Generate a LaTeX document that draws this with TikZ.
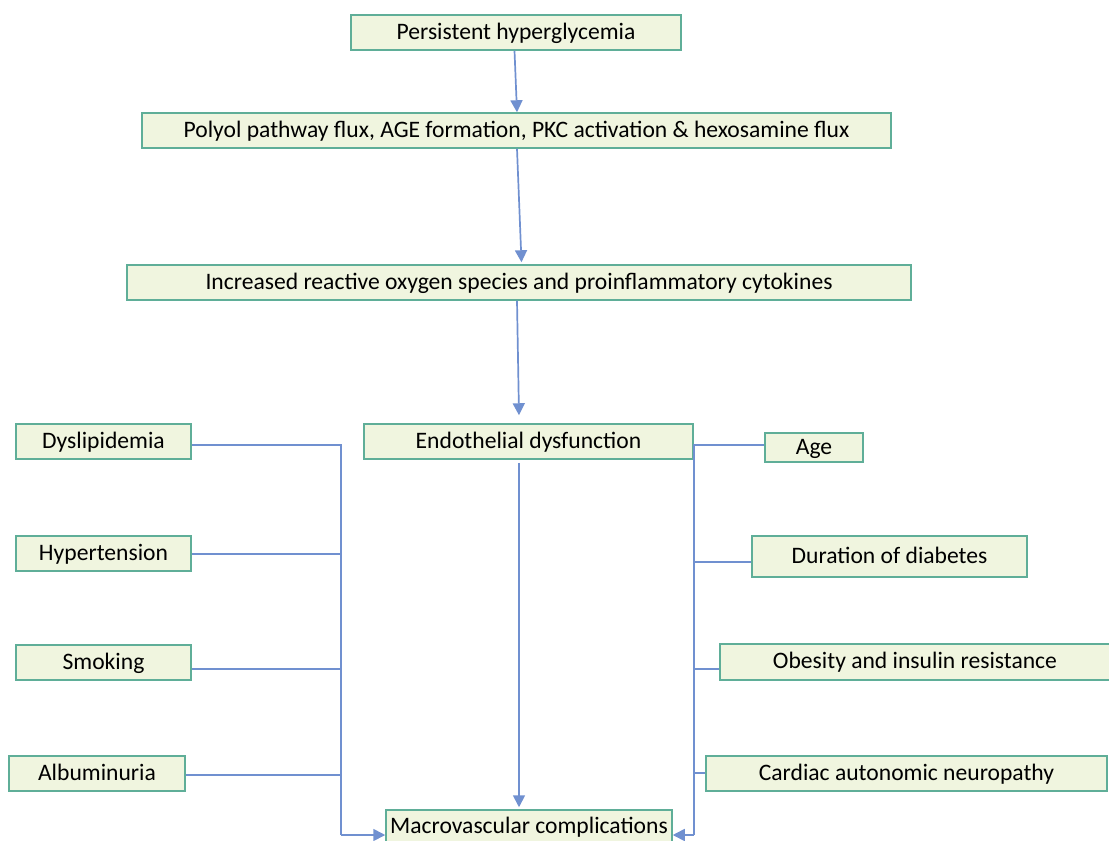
\documentclass[tikz,border=0pt]{standalone}
\usepackage{fontspec}
\setmainfont{Carlito}
\usetikzlibrary{arrows.meta}
\definecolor{fillc}{HTML}{F0F5DF}
\definecolor{edgec}{HTML}{5FAE98}
\definecolor{linec}{HTML}{7090D0}
\begin{document}
\begin{tikzpicture}[x=1pt,y=-1pt,
  box/.style={draw=edgec, fill=fillc, line width=1.5pt, inner sep=0pt, text height=17pt, text depth=4pt, font=\fontsize{23.6}{28}\selectfont},
  conn/.style={draw=linec, line width=1.7pt},
  arr/.style={conn, -{Triangle[width=12pt,length=12pt]}}]
\useasboundingbox (0,0) rectangle (1109,841);
% main column
\node[box, minimum width=330pt, minimum height=35pt] (hyp) at (516,32.5) {Persistent hyperglycemia};
\node[box, minimum width=749pt, minimum height=35pt] (pol) at (516.5,130.5) {Polyol pathway flux, AGE formation, PKC activation \& hexosamine flux};
\node[box, minimum width=784pt, minimum height=35pt] (ros) at (519,282.5) {Increased reactive oxygen species and proinflammatory cytokines};
\node[box, minimum width=329pt, minimum height=35pt] (endo) at (528.5,441.5) {Endothelial dysfunction};
\node[box, minimum width=286pt, minimum height=33pt] (mac) at (529,826.5) {Macrovascular complications};
% left factors
\node[box, minimum width=175pt, minimum height=35pt] (dys) at (103.5,441.5) {Dyslipidemia};
\node[box, minimum width=175pt, minimum height=35pt] (htn) at (103.5,553.5) {Hypertension};
\node[box, minimum width=175pt, minimum height=35pt] (smk) at (103.5,662.5) {Smoking};
\node[box, minimum width=176pt, minimum height=35pt] (alb) at (97,773.5) {Albuminuria};
% right factors
\node[box, minimum width=98pt, minimum height=29pt] (age) at (814,447.5) {Age};
\node[box, minimum width=275pt, minimum height=41pt] (dur) at (889.5,556.5) {Duration of diabetes};
\node[box, minimum width=390pt, minimum height=36pt] (obe) at (915,662) {Obesity and insulin resistance};
\node[box, minimum width=401pt, minimum height=35pt] (car) at (906.5,773.5) {Cardiac autonomic neuropathy};
% vertical arrows
\draw[arr] ([xshift=-1.5pt]hyp.south) -- ([xshift=0.5pt]pol.north);
\draw[arr] ([xshift=0.5pt]pol.south) -- ([xshift=2.5pt,yshift=2pt]ros.north);
\draw[arr] ([xshift=-2pt]ros.south) -- ([xshift=-9.5pt,yshift=8pt]endo.north);
\draw[arr] ([xshift=-9.5pt,yshift=-3pt]endo.south) -- ([xshift=-10pt,yshift=2pt]mac.north);
% left bus
\coordinate (l1) at (341,445);
\coordinate (l2) at (341,554);
\coordinate (l3) at (341,669);
\coordinate (l4) at (341,775);
\coordinate (lb) at (341,835);
\draw[conn] (l1 -| dys.east) -- (l1) -- (lb);
\draw[conn] (l2 -| htn.east) -- (l2);
\draw[conn] (l3 -| smk.east) -- (l3);
\draw[conn] (l4 -| alb.east) -- (l4);
\draw[arr] (lb) -- (lb -| mac.west);
% right bus
\coordinate (r1) at (694,445);
\coordinate (r2) at (694,562);
\coordinate (r3) at (694,669);
\coordinate (r4) at (694,773);
\coordinate (rb) at (694,835);
\draw[conn] (r1 -| age.west) -- (r1) -- (rb);
\draw[conn] (r2) -- (r2 -| dur.west);
\draw[conn] (r3) -- (r3 -| obe.west);
\draw[conn] (r4) -- (r4 -| car.west);
\draw[arr] (rb) -- (rb -| mac.east);
\end{tikzpicture}
\end{document}
